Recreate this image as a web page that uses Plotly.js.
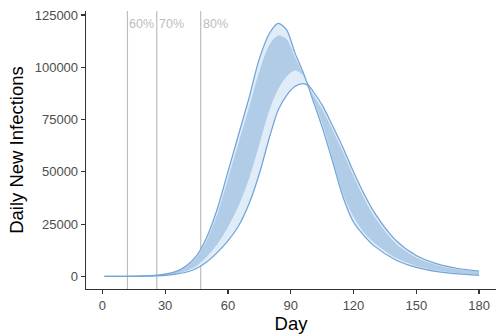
<!DOCTYPE html>
<html>
<head>
<meta charset="utf-8">
<script src="https://cdn.plot.ly/plotly-3.0.1.min.js"></script>
<style>
html, body { margin: 0; padding: 0; background: #fff; overflow: hidden; }
#chart { width: 496px; height: 336px; }
</style>
</head>
<body>
<div id="chart"></div>
<script>
// ---- data ----
const days        = [1, 10, 20, 26, 30, 35, 40, 45, 50, 55, 60, 65, 70, 75, 80, 84, 88, 92, 96, 98, 100, 105, 110, 115, 120, 125, 130, 140, 150, 160, 170, 180];
const outerTop    = [0, 50, 250, 600, 1100, 2300, 5000, 9800, 19000, 32500, 50000, 67500, 85000, 104000, 116500, 121000, 118000, 107000, 97500, 92300, 89500, 82000, 72000, 61500, 50000, 39500, 30500, 17500, 10000, 6000, 3800, 2600];
const innerTop    = [0, 50, 240, 580, 1050, 2100, 4600, 9000, 17500, 30000, 46500, 63500, 80500, 98000, 111000, 115200, 113500, 105000, 96500, 91800, 88000, 80000, 70000, 59500, 48000, 37500, 28500, 16000, 9000, 5400, 3400, 2300];
const innerBottom = [0, 30, 130, 350, 600, 1300, 2600, 5000, 9500, 15500, 23500, 33500, 46500, 63000, 80000, 89500, 95500, 98400, 96000, 91600, 87000, 73500, 56500, 39500, 28500, 21000, 16000, 9000, 5000, 2900, 1600, 800];
const outerBottom = [0, 20, 100, 300, 500, 1100, 2000, 3800, 7000, 11500, 17000, 24000, 34500, 49000, 67000, 79500, 86500, 90800, 92200, 91400, 86000, 71500, 55000, 38000, 26000, 19500, 14500, 8000, 4300, 2300, 1200, 500];

const vlineDays   = [12, 26, 47];
const vlineLabels = ['60%', '70%', '80%'];

const xTicks = [0, 30, 60, 90, 120, 150, 180];
const yTicks = [0, 25000, 50000, 75000, 100000, 125000];
const yTickText = ['0', '25000', '50000', '75000', '100000', '125000'];

// ---- styles ----
const lightFill = 'rgb(224,236,247)';
const darkFill  = 'rgb(176,204,231)';
const edgeColor = 'rgb(114,164,217)';
const font = 'Liberation Sans, Arial, Helvetica, sans-serif';
const sp = {shape: 'spline', smoothing: 0.8};

const traces = [
  {x: days, y: outerBottom, type: 'scatter', mode: 'lines', line: Object.assign({width: 0, color: edgeColor}, sp), hoverinfo: 'skip', showlegend: false},
  {x: days, y: outerTop, type: 'scatter', mode: 'lines', fill: 'tonexty', fillcolor: lightFill, line: Object.assign({width: 0, color: edgeColor}, sp), hoverinfo: 'skip', showlegend: false},
  {x: days, y: innerBottom, type: 'scatter', mode: 'lines', line: Object.assign({width: 0, color: darkFill}, sp), hoverinfo: 'skip', showlegend: false},
  {x: days, y: innerTop, type: 'scatter', mode: 'lines', fill: 'tonexty', fillcolor: darkFill, line: Object.assign({width: 0, color: darkFill}, sp), hoverinfo: 'skip', showlegend: false},
  {x: days, y: outerTop, type: 'scatter', mode: 'lines', line: Object.assign({width: 1.25, color: edgeColor}, sp), hoverinfo: 'skip', showlegend: false},
  {x: days, y: outerBottom, type: 'scatter', mode: 'lines', line: Object.assign({width: 1.25, color: edgeColor}, sp), hoverinfo: 'skip', showlegend: false}
];

const shapes = vlineDays.map(d => ({
  type: 'line', xref: 'x', yref: 'paper', x0: d, x1: d, y0: 0, y1: 1,
  line: {color: '#bdbdbd', width: 1.2}, layer: 'below'
}));

const annotations = vlineDays.map((d, i) => ({
  x: d, y: 120500, xref: 'x', yref: 'y', text: vlineLabels[i],
  xanchor: 'left', yanchor: 'middle', showarrow: false, xshift: 0,
  font: {family: font, size: 12.5, color: '#bdbdbd'}
}));

const layout = {
  width: 496, height: 336,
  margin: {l: 86, r: 0, t: 11, b: 47, pad: 0},
  paper_bgcolor: '#fff', plot_bgcolor: '#fff',
  showlegend: false,
  xaxis: {
    range: [-7.8, 188.1], tickmode: 'array', tickvals: xTicks,
    showline: true, linecolor: '#333', linewidth: 1.3,
    ticks: 'outside', ticklen: 4, tickcolor: '#333', tickwidth: 1.2,
    showgrid: false, zeroline: false,
    tickfont: {family: font, size: 13, color: '#4d4d4d'},
    title: {text: 'Day', font: {family: font, size: 18.5, color: '#000'}, standoff: 1}
  },
  yaxis: {
    range: [-6000, 126900], tickmode: 'array', tickvals: yTicks, ticktext: yTickText,
    showline: true, linecolor: '#333', linewidth: 1.3,
    ticks: 'outside', ticklen: 4, tickcolor: '#333', tickwidth: 1.2,
    showgrid: false, zeroline: false,
    tickfont: {family: font, size: 13, color: '#4d4d4d'},
    title: {text: 'Daily New Infections', font: {family: font, size: 18.5, color: '#000'}, standoff: 6}
  },
  shapes: shapes,
  annotations: annotations
};

Plotly.newPlot('chart', traces, layout, {staticPlot: true, displayModeBar: false});
</script>
</body>
</html>
